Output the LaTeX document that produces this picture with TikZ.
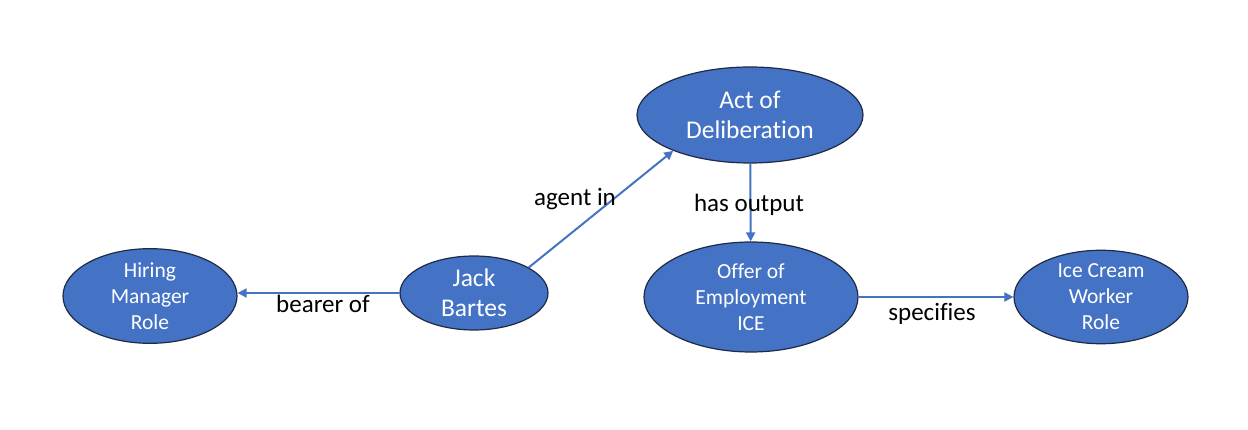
\documentclass[tikz,border=0pt]{standalone}
\usepackage{fontspec}
\setmainfont[Ligatures=NoCommon]{Carlito}
\usetikzlibrary{shapes.geometric,arrows.meta}
\definecolor{nodeblue}{HTML}{4472C4}
\definecolor{edgenavy}{HTML}{1F2A44}
\tikzset{
  ell/.style={ellipse, fill=nodeblue, draw=edgenavy, line width=1.2pt, text=white, align=center, inner sep=0pt},
  conn/.style={draw=nodeblue, line width=2pt, -{Triangle[length=9pt,width=9pt]}},
  lab/.style={font=\fontsize{25}{29}\selectfont, text=black}
}
\begin{document}
\begin{tikzpicture}[x=1pt,y=-1pt]
\useasboundingbox (0,0) rectangle (1248,430);
\node[ell, minimum width=174pt, minimum height=92pt, font=\fontsize{21.5}{26}\selectfont] (hmr) at (150,296) {Hiring\\Manager\\Role};
\node[ell, minimum width=148pt, minimum height=74pt, font=\fontsize{25.5}{30}\selectfont] (jb) at (474,293) {Jack\\Bartes};
\node[ell, minimum width=226pt, minimum height=96pt, font=\fontsize{25.5}{30}\selectfont] (ad) at (750,115) {Act of\\Deliberation};
\node[ell, minimum width=214pt, minimum height=110pt, font=\fontsize{21.5}{26}\selectfont] (oe) at (751,297) {Offer of\\Employment\\ICE};
\node[ell, minimum width=174pt, minimum height=90pt, font=\fontsize{21.5}{26}\selectfont] (icw) at (1101,297) {Ice Cream\\Worker\\Role};
\draw[conn] (jb.west) -- (hmr.east |- jb.west);
\draw[conn] (jb.25) -- (ad.205);
\draw[conn] (ad) -- (oe);
\draw[conn] (oe.east) -- (icw.west |- oe.east);
\node[lab] (l1) at (323,304) {bearer of};
\node[lab] (l2) at (575,199) {agent in};
\node[lab] (l3) at (749,205) {has output};
\node[lab] (l4) at (932,314) {specifies};
\end{tikzpicture}
\end{document}
